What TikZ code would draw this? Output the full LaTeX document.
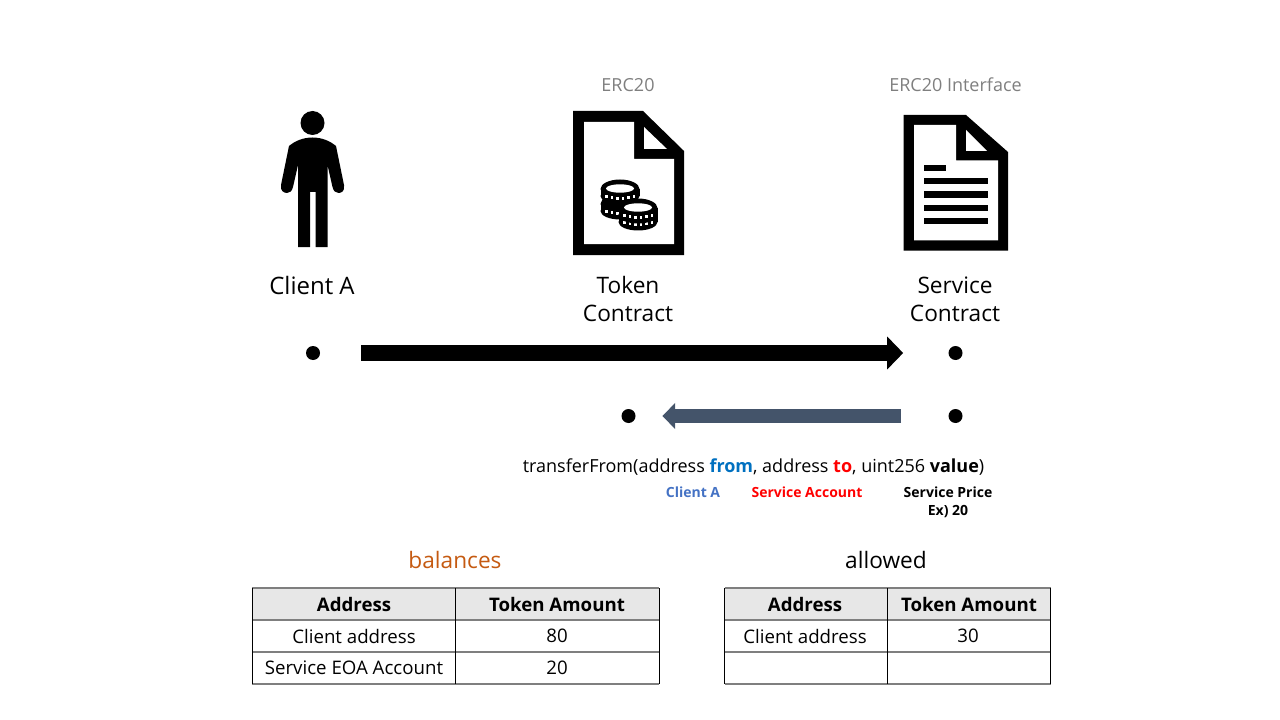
\documentclass[tikz,border=0pt]{standalone}
\usepackage{fontspec}
\setmainfont{Open Sans}
\usetikzlibrary{arrows.meta}
\definecolor{greytext}{HTML}{7F7F7F}
\definecolor{bluefrom}{HTML}{0070C0}
\definecolor{blueclient}{HTML}{4472C4}
\definecolor{orangebal}{HTML}{C55A11}
\definecolor{slatearrow}{HTML}{44546A}
\definecolor{headfill}{HTML}{E7E7E7}
\definecolor{rulegrey}{HTML}{7F7F7F}
\tikzset{
	bigtext/.style={font=\fontsize{17}{21}\selectfont, align=center, inner sep=0pt},
	captext/.style={font=\fontsize{13.5}{16}\selectfont, text=greytext, inner sep=0pt},
	calltext/.style={font=\fontsize{13.5}{16}\selectfont, inner sep=0pt},
	smalltext/.style={font=\fontsize{10.5}{13.5}\selectfont\bfseries, align=center, inner sep=0pt},
	headcell/.style={font=\fontsize{14}{16}\selectfont\bfseries, inner sep=0pt},
	bodycell/.style={font=\fontsize{14}{16}\selectfont, inner sep=0pt},
	dotmark/.style={circle, fill=black, minimum size=10.5pt, inner sep=0pt},
	pics/coinbody/.style={code={
		\fill (-19.5,0) rectangle (19.5,7);
		\fill (0,0) ellipse (19.5 and 9.5);
		\fill (0,7) ellipse (19.5 and 8.5);
		\foreach \a/\b in {-15/6,-9.5/7.3,-4/8,1.5/8,7/7.3,12.5/6}
			\fill[white] (\a,\b) rectangle ++(2.8,3);
	}},
	pics/coin/.style={code={
		\pic {coinbody};
		\fill[white] (0,-0.5) ellipse (14 and 4.2);
	}}
}
\begin{document}
\begin{tikzpicture}[x=0.75pt, y=-0.75pt, line join=miter]
	\useasboundingbox (0,0) rectangle (1280,720);
	% person
	\fill (312.5,123) circle (12);
	\fill (312.5,137.5)..controls (303,137.5) and (295,141) .. (289,146)--(281,185)
		..controls (280,191) and (284,193) .. (287,193)..controls (290,193) and (292,191) .. (293,187)--(298,165)
		--(298,247)--(310,247)--(310,192)--(315.5,192)--(315.5,247)--(327.5,247)--(327.5,165)--(332.5,187)
		..controls (333.5,191) and (335.5,193) .. (338.5,193)..controls (341.5,193) and (345,191) .. (344,185)
		--(336,146)..controls (330,141) and (322,137.5) .. (312.5,137.5)--cycle;
	% token contract page
	\fill (573,111)--(643,111)--(684,151)--(684,255)--(573,255)--cycle;
	\fill[white] (584,122)--(634,122)--(634,159)--(674,159)--(674,244)--(584,244)--cycle;
	\fill[white] (644,127)--(644,149)--(667,149)--cycle;
	\path (620,204) pic {coinbody};
	\path (620,189) pic {coin};
	\path (638,215) pic {coinbody};
	\path (638,208) pic {coin};
	% service contract page
	\fill (903.5,115)--(966,115)--(1008,152)--(1008,250.5)--(903.5,250.5)--cycle;
	\fill[white] (914,125)--(956,125)--(956,160.5)--(998,160.5)--(998,240.5)--(914,240.5)--cycle;
	\fill[white] (966,130)--(966,151)--(987,151)--cycle;
	\fill (924,165) rectangle (946,171);
	\foreach \y in {178,191.5,205,218}
		\fill (924,\y) rectangle (988,\y+6.5);
	% labels
	\node[captext] (capToken) at (628,85) {ERC20};
	\node[captext] (capService) at (955.5,85) {ERC20 Interface};
	\node[bigtext, font=\fontsize{18}{21}\selectfont] (nameClient) at (312,285) {Client A};
	\node[bigtext] (nameToken) at (628,299) {Token\\Contract};
	\node[bigtext] (nameService) at (955,299) {Service\\Contract};
	% dots and arrows
	\node[dotmark] (dotClient) at (313,353) {};
	\node[dotmark] (dotServiceA) at (955.5,353) {};
	\node[dotmark] (dotToken) at (628.5,416) {};
	\node[dotmark] (dotServiceB) at (955.5,416) {};
	\draw[-{Triangle[length=12pt,width=24pt]}, line width=12.4pt, shorten <=30.7pt, shorten >=33.8pt] (dotClient)--(dotServiceA);
	\draw[-{Triangle[length=9.5pt,width=19pt]}, slatearrow, line width=10pt, shorten <=35.3pt, shorten >=20pt] (dotServiceB)--(dotToken);
	% call text
	\node[calltext] (callText) at (753.5,467) {transferFrom(address \textcolor{bluefrom}{\textbf{from}}, address \textcolor{red}{\textbf{to}}, uint256 \textbf{value})};
	\node[smalltext, text=blueclient] (argFrom) at (693,492) {Client A};
	\node[smalltext, text=red] (argTo) at (807,492) {Service Account};
	\node[smalltext] (argValue) at (948,502) {Service Price\\Ex) 20};
	% balances table
	\node[bigtext, text=orangebal] (titleBalances) at (455,560) {balances};
	\fill[headfill] (252,588) rectangle (659,620);
	\foreach \y in {588,620,652,684}
		\draw[rulegrey, line width=1.3pt] (252,\y)--(659,\y);
	\foreach \x in {252.5,455.5,659}
		\draw[line width=0.7pt] (\x,588)--(\x,684);
	\node[headcell] (balHeadA) at (354,604) {Address};
	\node[headcell] (balHeadB) at (557,604) {Token Amount};
	\node[bodycell] (balCellA) at (354,636) {Client address};
	\node[bodycell] (balCellB) at (557,636) {80};
	\node[bodycell] (balCellC) at (354,668) {Service EOA Account};
	\node[bodycell] (balCellD) at (557,668) {20};
	% allowed table
	\node[bigtext] (titleAllowed) at (886,560) {allowed};
	\fill[headfill] (724.5,588) rectangle (1051,620);
	\foreach \y in {588,620,652,684}
		\draw[rulegrey, line width=1.3pt] (724.5,\y)--(1051,\y);
	\foreach \x in {724.5,887,1050.5}
		\draw[line width=0.7pt] (\x,588)--(\x,684);
	\node[headcell] (allHeadA) at (805,604) {Address};
	\node[headcell] (allHeadB) at (969,604) {Token Amount};
	\node[bodycell] (allCellA) at (805,636) {Client address};
	\node[bodycell] (allCellB) at (968,636) {30};
\end{tikzpicture}
\end{document}
